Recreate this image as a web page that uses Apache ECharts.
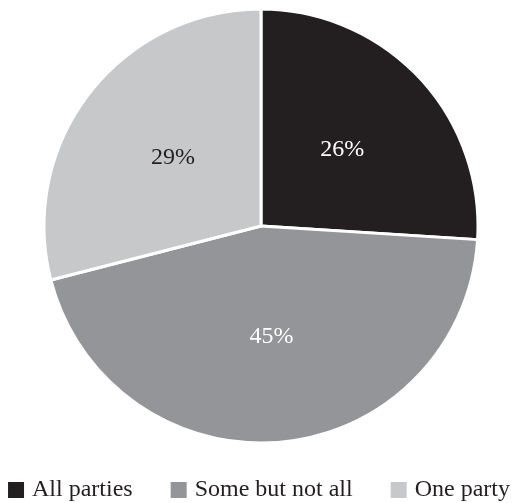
<!DOCTYPE html>
<html>
<head>
<meta charset="utf-8">
<script src="https://cdn.jsdelivr.net/npm/echarts@6/dist/echarts.min.js"></script>
<style>
  html, body { margin: 0; padding: 0; background: #fff; }
  #chart { width: 516px; height: 503px; }
</style>
</head>
<body>
<div id="chart"></div>
<script>
// Share of cases by which parties are involved
const categories = ['All parties', 'Some but not all', 'One party'];
const shares = [26, 45, 29];
const sliceColors = ['#231f20', '#939598', '#c7c8ca'];
const labelColors = ['#ffffff', '#ffffff', '#231f20'];

const serif = '"Liberation Serif", "DejaVu Serif", serif';

const chart = echarts.init(document.getElementById('chart'), null, { renderer: 'canvas' });

chart.setOption({
  animation: false,
  color: sliceColors,
  legend: {
    data: categories,
    bottom: -4,
    left: 'center',
    icon: 'rect',
    itemWidth: 18,
    itemHeight: 18,
    itemGap: 36,
    textStyle: { fontFamily: serif, fontSize: 24, color: '#231f20', padding: [0, 0, 0, 2] }
  },
  series: [{
    type: 'pie',
    center: [261, 226],
    radius: [0, 217],
    startAngle: 90,
    clockwise: true,
    silent: true,
    itemStyle: { borderColor: '#ffffff', borderWidth: 3 },
    label: {
      show: true,
      position: 'inside',
      fontFamily: serif,
      fontSize: 24,
      formatter: p => p.value + '%'
    },
    labelLine: { show: false },
    data: categories.map((name, i) => ({
      name,
      value: shares[i],
      label: { color: labelColors[i] }
    }))
  }]
});
</script>
</body>
</html>
